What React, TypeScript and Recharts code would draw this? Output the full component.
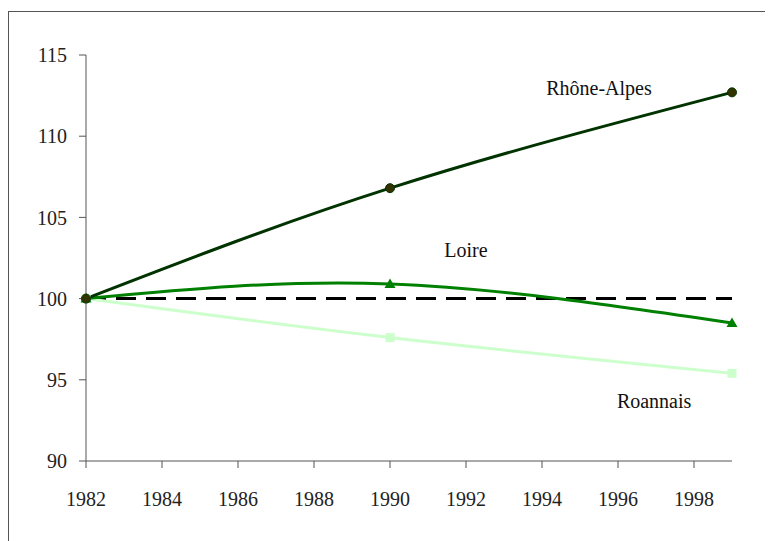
import React from 'react'
import { LineChart, Line, XAxis, YAxis, ReferenceDot } from 'recharts'

const years = [1982, 1990, 1999]
const rhoneAlpes = [100, 106.8, 112.7]
const loire = [100, 100.9, 98.5]
const roannais = [100, 97.6, 95.4]
const baseLine = [100, 100, 100]

const xTicks = [1982, 1984, 1986, 1988, 1990, 1992, 1994, 1996, 1998]
const yTicks = [90, 95, 100, 105, 110, 115]

const labelNames = ['Rhône-Alpes', 'Loire', 'Roannais']
const labelYears = [1995.5, 1992, 1996.95]
const labelValues = [113.0, 103.0, 93.7]

const data = years.map((year, i) => ({
  year,
  rhone: rhoneAlpes[i],
  loire: loire[i],
  roannais: roannais[i],
  base: baseLine[i],
}))

const labels = labelNames.map((name, i) => ({ name, x: labelYears[i], y: labelValues[i] }))

const FONT = '"Times New Roman", Tinos, "Liberation Serif", "Noto Serif", "DejaVu Serif", FreeSerif, serif'
const AXIS = '#555555'

const circleDot = (props: any) => (
  <circle key={props.key ?? `c-${props.index}`} cx={props.cx} cy={props.cy} r={4.5} fill="#333300" stroke="#003300" strokeWidth={1} />
)

const triangleDot = (props: any) => {
  const { cx, cy } = props
  return (
    <path
      key={props.key ?? `t-${props.index}`}
      d={`M${cx},${cy - 5.5} L${cx + 5.5},${cy + 4} L${cx - 5.5},${cy + 4} Z`}
      fill="#008000"
    />
  )
}

const squareDot = (props: any) => {
  const { cx, cy } = props
  return <rect key={props.key ?? `s-${props.index}`} x={cx - 4.5} y={cy - 4.5} width={9} height={9} fill="#ccffcc" />
}

export default function App() {
  return (
    <div style={{ position: 'relative', width: 765, height: 533, fontFamily: FONT }}>
      <div
        style={{
          position: 'absolute',
          left: 0,
          top: 3,
          width: 770,
          height: 540,
          borderLeft: '1px solid #555',
          borderTop: '1px solid #555',
        }}
      />
      <LineChart
        width={765}
        height={533}
        data={data}
        margin={{ top: 47, right: 41, bottom: 40, left: 0 }}
        style={{ position: 'absolute', left: 0, top: 0, fontFamily: FONT }}
      >
        <XAxis
          dataKey="year"
          type="number"
          domain={[1982, 1999]}
          ticks={xTicks}
          interval={0}
          height={40}
          stroke={AXIS}
          tickSize={7}
          tickMargin={24}
          tick={{ fill: '#222', fontSize: 20, style: { fontFamily: FONT } }}
        />
        <YAxis
          type="number"
          domain={[90, 115]}
          ticks={yTicks}
          interval={0}
          width={78}
          stroke={AXIS}
          tickSize={7}
          tickMargin={12}
          tick={{ fill: '#222', fontSize: 20, style: { fontFamily: FONT } }}
        />
        <Line
          dataKey="base"
          type="linear"
          stroke="#000000"
          strokeWidth={3}
          strokeDasharray="20 10"
          dot={false}
          isAnimationActive={false}
        />
        <Line
          dataKey="roannais"
          type="natural"
          stroke="#ccffcc"
          strokeWidth={3}
          dot={squareDot}
          activeDot={false}
          isAnimationActive={false}
        />
        <Line
          dataKey="loire"
          type="natural"
          stroke="#008000"
          strokeWidth={3}
          dot={triangleDot}
          activeDot={false}
          isAnimationActive={false}
        />
        <Line
          dataKey="rhone"
          type="natural"
          stroke="#003300"
          strokeWidth={3}
          dot={circleDot}
          activeDot={false}
          isAnimationActive={false}
        />
        {labels.map((l) => (
          <ReferenceDot
            key={l.name}
            x={l.x}
            y={l.y}
            r={0}
            fill="none"
            stroke="none"
            label={{ value: l.name, position: 'center', fill: '#111', fontSize: 20, style: { fontFamily: FONT } }}
          />
        ))}
      </LineChart>
    </div>
  )
}
